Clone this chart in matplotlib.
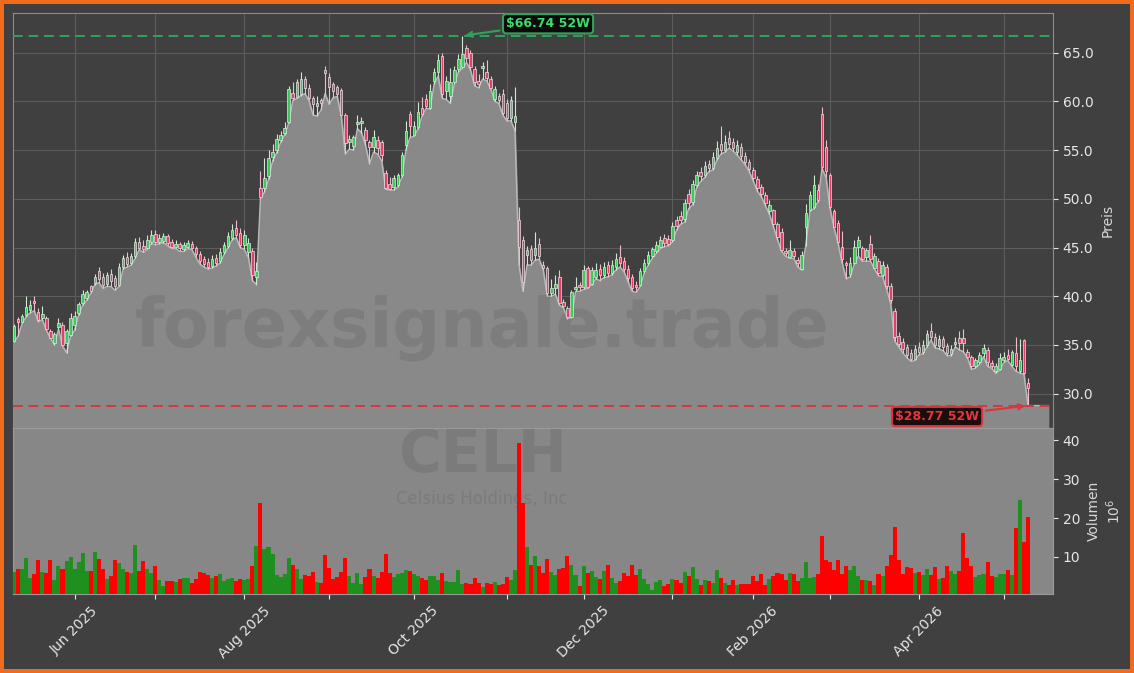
import numpy as np
import pandas as pd
import matplotlib
matplotlib.use("Agg")
import matplotlib.pyplot as plt
from matplotlib.ticker import FixedLocator, FixedFormatter, FormatStrFormatter

# daily OHLC (USD) and volume (millions), CELH, 52 weeks
open_ = [
    35.4, 37.7, 37.3, 38.1, 38.6, 39.5, 38.4, 37.8, 37.8, 36.4,
    35.2, 36.8, 37.0, 35.2, 36.0, 37.0, 38.3, 39.3, 39.8, 41.0,
    41.4, 42.6, 42.0, 41.3, 42.3, 41.9, 41.2, 43.0, 44.0, 43.4,
    44.1, 45.6, 45.2, 45.0, 45.6, 46.4, 45.6, 45.7, 46.2, 45.6,
    45.1, 45.4, 44.8, 45.1, 45.4, 45.0, 44.3, 43.8, 43.5, 43.1,
    43.9, 43.6, 44.5, 45.2, 46.0, 47.0, 46.5, 45.3, 44.5, 44.6,
    42.0, 51.1, 51.1, 52.3, 54.3, 55.0, 56.0, 56.8, 57.9, 60.9,
    60.5, 60.8, 62.3, 61.4, 60.3, 59.5, 60.1, 63.2, 62.5, 61.8,
    61.5, 61.2, 58.6, 55.8, 55.4, 57.7, 57.8, 57.1, 55.8, 55.3,
    56.0, 55.8, 52.6, 51.5, 51.2, 51.4, 52.4, 55.5, 58.7, 56.5,
    57.4, 59.3, 60.2, 59.3, 62.1, 63.0, 64.7, 61.1, 60.6, 62.0,
    63.3, 63.5, 65.5, 65.0, 63.3, 62.1, 63.4, 63.0, 62.3, 60.2,
    60.6, 60.8, 59.8, 58.3, 57.9, 47.8, 45.8, 44.2, 44.8, 44.2,
    45.4, 43.2, 42.9, 40.3, 40.8, 42.0, 39.4, 38.8, 37.9, 40.7,
    41.1, 40.9, 42.9, 41.3, 42.0, 42.8, 42.2, 43.2, 42.4, 43.0,
    44.0, 43.6, 42.8, 42.0, 41.2, 41.2, 42.6, 43.4, 44.1, 44.6,
    45.1, 46.0, 45.9, 45.8, 47.8, 48.2, 47.9, 50.5, 49.7, 51.4,
    52.8, 52.4, 53.6, 53.2, 54.2, 55.6, 55.0, 56.2, 55.8, 54.8,
    55.3, 54.4, 53.8, 53.0, 52.0, 51.2, 50.4, 48.7, 48.8, 47.4,
    46.6, 44.6, 44.0, 44.6, 43.7, 42.8, 47.1, 48.8, 49.2, 50.9,
    58.7, 55.3, 52.4, 48.7, 47.5, 45.1, 43.4, 42.3, 43.4, 45.1,
    44.9, 44.0, 45.4, 42.9, 43.6, 42.2, 43.0, 41.0, 38.5, 35.9,
    35.3, 34.8, 34.2, 33.6, 34.8, 34.3, 35.0, 36.4, 35.8, 34.9,
    35.6, 34.9, 34.1, 35.1, 35.7, 35.7, 34.3, 33.8, 32.8, 33.2,
    34.2, 34.5, 33.1, 32.3, 32.5, 33.4, 34.0, 32.9, 34.2, 32.3,
    35.5, 31.1,
]
high = [
    37.1, 37.9, 38.2, 40.0, 39.6, 40.0, 38.8, 39.0, 38.0, 36.6,
    36.3, 37.8, 37.3, 36.6, 38.3, 38.5, 39.4, 40.6, 40.6, 41.2,
    42.3, 43.0, 42.4, 42.5, 42.8, 42.2, 43.4, 44.2, 44.5, 44.4,
    46.0, 46.1, 45.8, 46.3, 46.8, 46.8, 46.4, 46.5, 46.4, 45.9,
    45.8, 45.6, 45.6, 45.8, 45.7, 45.2, 44.6, 44.1, 43.9, 44.2,
    44.3, 44.9, 45.6, 46.6, 47.4, 47.8, 47.0, 46.8, 46.0, 45.0,
    43.5, 52.9, 54.2, 55.0, 55.6, 56.7, 57.0, 57.9, 61.6, 62.0,
    62.3, 63.0, 62.6, 61.8, 60.6, 60.6, 60.4, 63.6, 62.9, 62.0,
    61.7, 61.4, 58.8, 56.5, 56.6, 58.6, 58.4, 57.4, 56.0, 57.1,
    56.4, 56.0, 53.0, 52.2, 52.4, 52.7, 54.8, 58.0, 59.0, 58.0,
    59.9, 60.5, 60.8, 61.8, 63.4, 64.9, 65.0, 62.6, 63.4, 63.6,
    64.9, 66.74, 65.8, 65.3, 63.6, 62.8, 64.0, 64.2, 62.6, 61.6,
    60.9, 61.3, 60.2, 60.6, 61.5, 49.2, 46.2, 45.2, 45.3, 46.6,
    46.0, 43.6, 43.1, 41.8, 42.2, 42.7, 39.7, 39.0, 40.6, 42.0,
    41.5, 43.2, 43.1, 43.0, 43.4, 43.3, 43.5, 43.6, 43.7, 44.4,
    45.3, 44.0, 43.2, 42.3, 41.6, 42.9, 43.8, 44.6, 45.1, 45.7,
    46.2, 46.4, 46.3, 47.6, 48.2, 48.7, 50.0, 51.0, 51.9, 52.9,
    53.3, 53.9, 54.0, 54.8, 55.9, 57.5, 56.6, 57.0, 56.2, 56.0,
    55.7, 54.8, 54.1, 53.3, 52.3, 51.5, 50.7, 49.9, 49.0, 47.6,
    47.0, 45.0, 45.8, 45.0, 44.0, 44.6, 49.5, 50.8, 52.4, 51.5,
    59.4, 56.0, 52.6, 49.0, 47.8, 46.7, 43.6, 44.0, 45.8, 46.2,
    45.2, 45.0, 46.3, 44.4, 43.9, 43.6, 43.3, 41.4, 38.8, 36.3,
    35.7, 35.1, 34.6, 35.0, 35.3, 35.5, 36.5, 37.2, 36.2, 36.0,
    35.9, 35.2, 35.0, 35.8, 36.4, 36.6, 34.6, 34.0, 33.7, 34.3,
    35.1, 34.8, 33.4, 33.1, 34.2, 34.3, 34.6, 34.5, 35.8, 35.6,
    35.6, 31.6,
]
low = [
    35.3, 35.9, 37.2, 37.9, 38.3, 38.5, 37.4, 37.6, 36.5, 35.7,
    35.0, 36.6, 34.9, 34.2, 35.9, 36.5, 38.1, 39.1, 39.6, 40.3,
    41.2, 41.4, 40.8, 41.0, 41.0, 40.6, 41.0, 42.8, 43.0, 43.2,
    43.9, 44.8, 44.5, 44.8, 45.4, 45.3, 45.4, 45.5, 45.2, 44.9,
    44.9, 44.6, 44.6, 44.9, 44.8, 44.0, 43.3, 43.0, 42.8, 42.9,
    43.1, 43.4, 44.3, 45.0, 45.8, 46.0, 45.0, 44.8, 44.0, 41.6,
    41.2, 50.0, 50.7, 52.0, 53.9, 54.7, 55.8, 56.6, 57.8, 60.1,
    60.3, 60.6, 60.8, 60.1, 58.6, 58.5, 59.1, 60.8, 59.7, 60.4,
    60.5, 58.5, 54.6, 55.1, 55.0, 57.2, 56.8, 55.5, 53.6, 54.8,
    54.6, 53.9, 51.0, 50.9, 50.9, 51.2, 52.2, 55.0, 56.3, 56.4,
    57.2, 58.5, 59.3, 59.2, 61.8, 62.6, 60.3, 60.2, 59.8, 61.8,
    63.0, 63.4, 64.0, 63.2, 61.6, 61.4, 62.3, 62.1, 61.3, 60.0,
    59.8, 58.6, 58.0, 58.0, 57.0, 43.2, 40.5, 43.2, 43.2, 43.7,
    43.8, 42.7, 40.0, 40.0, 40.2, 39.1, 38.8, 37.7, 37.8, 40.5,
    40.5, 40.7, 40.8, 41.2, 41.8, 41.6, 41.9, 42.0, 42.2, 42.7,
    43.0, 42.5, 41.5, 40.5, 40.4, 41.0, 42.4, 43.2, 43.9, 44.4,
    44.9, 45.1, 45.2, 45.6, 46.8, 47.4, 47.6, 49.0, 49.4, 51.2,
    51.8, 52.2, 52.8, 53.0, 54.0, 54.6, 54.8, 55.2, 54.9, 54.5,
    54.0, 53.5, 52.8, 51.8, 50.8, 50.2, 49.3, 48.4, 47.1, 45.8,
    44.6, 44.1, 43.9, 43.9, 43.0, 42.7, 45.2, 48.7, 49.0, 49.7,
    53.1, 52.2, 49.0, 47.0, 45.4, 43.4, 41.8, 42.0, 43.3, 44.1,
    43.6, 43.6, 43.6, 42.8, 42.1, 42.0, 40.7, 39.3, 35.4, 34.8,
    34.2, 33.7, 33.3, 33.4, 34.0, 34.1, 34.8, 35.5, 34.7, 34.6,
    34.4, 33.9, 33.9, 34.8, 34.5, 34.3, 33.7, 32.5, 32.6, 33.0,
    33.8, 32.8, 32.6, 32.1, 32.4, 33.2, 33.4, 32.8, 32.3, 32.1,
    32.0, 28.77,
]
close = [
    36.9, 37.3, 38.0, 38.9, 39.1, 39.3, 37.6, 38.2, 36.6, 35.7,
    36.1, 37.2, 35.0, 36.4, 37.8, 38.0, 39.2, 40.2, 40.4, 40.5,
    42.0, 41.8, 41.2, 42.2, 41.6, 41.0, 43.0, 43.9, 43.3, 44.1,
    45.6, 45.0, 44.8, 45.8, 46.3, 45.6, 46.0, 46.2, 45.5, 45.1,
    45.4, 44.9, 45.3, 45.5, 45.0, 44.3, 43.6, 43.3, 43.0, 43.8,
    43.4, 44.5, 45.3, 46.2, 46.8, 46.3, 45.3, 46.3, 45.5, 42.2,
    42.6, 50.2, 52.1, 54.2, 54.8, 56.1, 56.6, 57.3, 61.3, 60.4,
    62.0, 62.3, 61.4, 60.3, 59.7, 59.8, 59.8, 62.9, 61.5, 61.1,
    60.8, 58.6, 55.7, 56.1, 56.3, 57.9, 58.0, 56.0, 55.3, 56.3,
    55.2, 54.5, 51.1, 51.0, 52.1, 52.4, 54.5, 57.0, 57.5, 57.5,
    58.9, 58.7, 59.5, 61.1, 63.0, 64.3, 60.8, 62.1, 62.0, 63.2,
    64.4, 64.9, 64.5, 63.5, 62.0, 61.8, 63.6, 62.4, 61.4, 61.3,
    60.1, 58.8, 58.3, 60.1, 58.5, 45.1, 41.5, 44.7, 43.7, 45.0,
    44.1, 42.9, 40.3, 40.8, 41.3, 39.3, 39.0, 37.9, 40.4, 40.9,
    40.9, 42.7, 40.9, 42.7, 42.7, 42.2, 43.0, 42.4, 43.2, 43.8,
    43.4, 42.8, 41.9, 40.8, 40.9, 42.6, 43.4, 44.2, 44.8, 45.3,
    45.8, 45.5, 45.4, 47.2, 47.2, 47.8, 49.6, 49.6, 51.5, 52.4,
    52.3, 53.4, 53.2, 54.3, 55.2, 55.0, 55.8, 55.6, 55.2, 55.5,
    54.4, 53.8, 53.1, 52.1, 51.1, 50.5, 49.6, 49.4, 47.4, 46.1,
    44.7, 44.4, 44.7, 44.1, 43.4, 44.2, 48.5, 50.4, 51.4, 49.9,
    53.3, 52.9, 49.2, 47.1, 45.6, 43.8, 43.2, 43.4, 45.1, 45.8,
    43.8, 44.7, 43.8, 44.1, 42.4, 43.2, 41.0, 39.6, 35.8, 35.1,
    34.6, 34.0, 33.6, 34.6, 34.3, 35.0, 36.1, 35.8, 35.0, 35.6,
    34.8, 34.2, 34.6, 35.3, 35.2, 35.2, 33.8, 32.8, 33.4, 34.0,
    34.7, 33.2, 32.8, 32.8, 33.7, 33.8, 33.6, 34.3, 32.8, 33.5,
    32.1, 30.6,
]
volume = [
    6.2, 7.0, 6.9, 9.7, 4.6, 5.6, 9.2, 6.2, 6.0, 9.2,
    4.1, 7.6, 6.9, 9.0, 10.0, 6.9, 8.8, 10.9, 6.5, 6.5,
    11.4, 9.4, 7.0, 4.4, 5.2, 9.2, 8.5, 7.0, 6.2, 6.0,
    13.0, 6.5, 9.0, 6.9, 6.0, 7.8, 4.1, 2.6, 3.8, 3.8,
    3.6, 4.4, 4.6, 4.6, 3.3, 4.4, 6.2, 6.0, 5.4, 4.6,
    5.2, 5.7, 3.8, 4.4, 4.6, 3.8, 4.4, 4.1, 4.4, 7.8,
    12.7, 23.8, 12.0, 12.5, 10.7, 5.4, 4.9, 5.7, 9.7, 7.9,
    7.0, 4.4, 5.4, 5.2, 6.2, 3.6, 3.3, 10.5, 7.2, 4.4,
    4.9, 6.2, 9.7, 5.2, 3.3, 6.0, 3.1, 4.9, 6.9, 5.2,
    4.6, 6.2, 10.7, 6.0, 4.9, 5.7, 6.0, 6.7, 6.5, 5.7,
    5.2, 4.6, 4.1, 5.2, 5.2, 4.1, 6.0, 3.8, 3.6, 3.6,
    6.7, 3.1, 3.3, 3.1, 4.6, 3.3, 2.3, 3.3, 3.1, 3.6,
    2.8, 3.1, 4.9, 4.1, 6.7, 39.2, 23.8, 12.6, 8.0, 10.2,
    7.7, 6.0, 9.6, 6.2, 5.4, 7.0, 7.2, 10.2, 8.0, 5.4,
    2.6, 7.7, 6.0, 6.5, 4.9, 4.4, 6.5, 8.0, 4.6, 3.3,
    3.8, 6.0, 5.2, 8.0, 5.4, 7.0, 4.4, 3.1, 1.6, 3.6,
    4.1, 2.6, 3.1, 4.4, 4.1, 3.3, 6.2, 5.2, 7.4, 4.4,
    2.8, 4.1, 3.8, 3.3, 6.7, 4.6, 3.3, 2.8, 4.1, 2.8,
    3.1, 3.1, 3.1, 5.2, 3.8, 5.7, 2.8, 4.4, 5.2, 6.0,
    5.6, 4.1, 6.0, 5.7, 3.8, 4.6, 8.8, 4.6, 4.9, 5.6,
    15.4, 9.1, 8.8, 6.7, 9.3, 5.7, 7.7, 6.7, 7.7, 5.2,
    4.1, 4.1, 3.8, 2.8, 5.7, 5.2, 7.8, 10.6, 17.7, 9.1,
    5.7, 7.5, 7.2, 6.0, 6.2, 5.4, 7.0, 5.4, 7.5, 4.4,
    4.6, 7.8, 6.5, 5.7, 6.5, 16.2, 9.8, 7.7, 4.9, 5.4,
    5.7, 8.8, 5.2, 4.9, 5.7, 5.7, 6.7, 5.4, 17.4, 24.6,
    13.9, 20.3,
]
holidays = ["2025-05-26", "2025-06-19", "2025-07-04", "2025-09-01", "2025-11-27",
            "2025-12-25", "2026-01-01", "2026-01-19", "2026-02-16", "2026-04-03"]
ticker = "CELH"
company = "Celsius Holdings, Inc"

o = np.array(open_)
h = np.array(high)
l = np.array(low)
c = np.array(close)
v = np.array(volume)
n = len(c)
idx = np.arange(n)

dates = pd.bdate_range("2025-05-09", "2026-05-11")
dates = dates[~dates.isin(pd.to_datetime(holidays))][:n]

bg = "#404040"
fig = plt.figure(figsize=(11.34, 6.73), dpi=100, facecolor=bg,
                 edgecolor="#f26a1b", linewidth=4.5)
W, H = 1134, 673
ax = fig.add_axes([13 / W, 1 - 428 / H, 1040 / W, 415 / H])
axv = fig.add_axes([13 / W, 1 - 594 / H, 1040 / W, 166 / H], sharex=ax)

# price panel
ax.set_facecolor(bg)
xf = np.append(idx, n + 4)
lf = np.append(l, l[-1])
ax.fill_between(xf, lf, 0, color="#898989", zorder=1)
ax.plot(xf, lf, color="#b9b9b9", lw=1.0, zorder=2)

up = c >= o
body_col = np.where(up, "#3ec95c", "#e5406a")
wick_col = np.where(up, "#cfe8d2", "#f2bccb")
ax.vlines(idx, l, h, colors=wick_col, lw=0.8, zorder=3)
body_h = np.maximum(np.abs(c - o), 0.12)
ax.bar(idx, body_h, bottom=np.minimum(o, c), width=0.62, color=body_col,
       edgecolor="#e6e6e6", linewidth=0.5, zorder=4)

hi, lo = h.max(), l.min()
hi_i, lo_i = int(h.argmax()), int(l.argmin())
ax.axhline(hi, color="#2fa35a", ls="--", lw=1.4, dashes=(5, 3), zorder=5)
ax.axhline(lo, color="#d9363e", ls="--", lw=1.4, dashes=(5, 3), zorder=5)
ax.annotate(f"${hi:.2f} 52W", xy=(hi_i, hi), xytext=(132.2, 67.97),
            color="#3ddc6a", fontsize=9, fontweight="bold", ha="center", va="center",
            bbox=dict(boxstyle="round,pad=0.25", fc="#0b0b0b", ec="#2fa35a", lw=1.5),
            arrowprops=dict(arrowstyle="->", color="#2fa35a", lw=1.5), zorder=10)
ax.annotate(f"${lo:.2f} 52W", xy=(lo_i, lo), xytext=(228.5, 27.65),
            color="#e8343c", fontsize=9, fontweight="bold", ha="center", va="center",
            bbox=dict(boxstyle="round,pad=0.25", fc="#1a0d0d", ec="#d9363e", lw=1.5),
            arrowprops=dict(arrowstyle="->", color="#d9363e", lw=1.5), zorder=10)

ax.text(0.451, 0.241, "forexsignale.trade", transform=ax.transAxes, fontsize=48,
        fontweight="bold", color="black", alpha=0.085, ha="center", va="center", zorder=2.5)

ax.set_ylim(lo * 0.92, hi * 1.035)
ax.set_xlim(-0.25, 257.2)
ax.yaxis.set_major_locator(FixedLocator([30, 35, 40, 45, 50, 55, 60, 65]))
ax.yaxis.set_major_formatter(FormatStrFormatter("%.1f"))
ax.yaxis.tick_right()
ax.yaxis.set_label_position("right")
ax.set_ylabel("Preis", color="#d8d8d8", fontsize=10, labelpad=5)
ax.grid(True, color="#5c5c5c", lw=0.8, zorder=0)
ax.set_axisbelow(True)
ax.tick_params(axis="y", colors="#e6e6e6", labelsize=10)
ax.tick_params(axis="x", labelbottom=False, length=0)
for s in ax.spines.values():
    s.set_color("#8c8c8c")

# month ticks (first trading day of each month)
month_pos = []
month_lab = []
prev = None
for i, d in enumerate(dates):
    if d.month != prev:
        if i > 0:
            month_pos.append(i)
            month_lab.append(d.strftime("%b %Y") if d.month % 2 == 0 else "")
        prev = d.month
ax.xaxis.set_major_locator(FixedLocator(month_pos))

# volume panel
axv.set_facecolor("#878787")
vol_col = np.where(up, "#1f8f1f", "#ff0000")
axv.bar(idx, v, width=1.0, color=vol_col, linewidth=0, zorder=3)
axv.text(0.451, 0.835, ticker, transform=axv.transAxes, fontsize=42, fontweight="bold",
         color="black", alpha=0.085, ha="center", va="center", zorder=1)
axv.text(0.451, 0.57, company, transform=axv.transAxes, fontsize=12,
         color="black", alpha=0.085, ha="center", va="center", zorder=1)
axv.set_ylim(0.5, 43.1)
axv.yaxis.set_major_locator(FixedLocator([10, 20, 30, 40]))
axv.yaxis.tick_right()
axv.yaxis.set_label_position("right")
axv.set_ylabel("Volumen\n$10^6$", color="#d8d8d8", fontsize=10, labelpad=5)
axv.tick_params(axis="y", colors="#e6e6e6", labelsize=10)
axv.xaxis.set_major_locator(FixedLocator(month_pos))
axv.xaxis.set_major_formatter(FixedFormatter(month_lab))
axv.tick_params(axis="x", colors="#e6e6e6", labelsize=10)
plt.setp(axv.get_xticklabels(), rotation=45, ha="center")
for s in axv.spines.values():
    s.set_color("#9a9a9a")

fig.savefig("out.png", dpi=100, facecolor=fig.get_facecolor(), edgecolor=fig.get_edgecolor())
